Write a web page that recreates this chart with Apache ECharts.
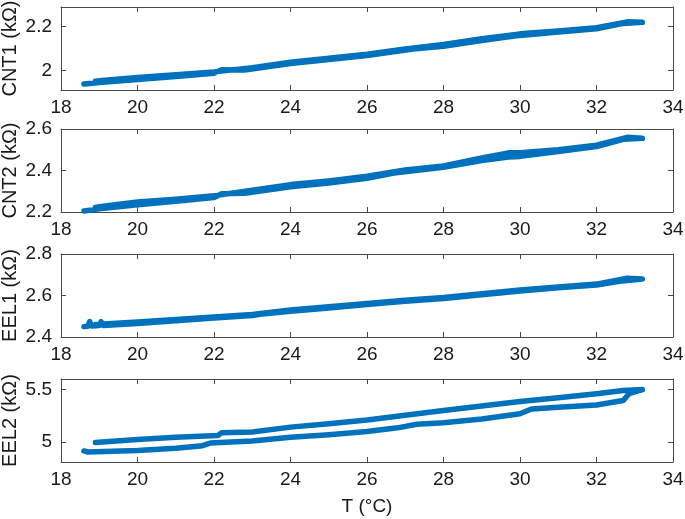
<!DOCTYPE html>
<html>
<head>
<meta charset="utf-8">
<script src="https://cdn.jsdelivr.net/npm/echarts@6/dist/echarts.min.js"></script>
<style>html,body{margin:0;padding:0;background:#fff}#c{width:685px;height:519px}</style>
</head>
<body>
<div id="c"></div>
<script>
// ---- data ----
const xTicks = [18, 20, 22, 24, 26, 28, 30, 32, 34];
const panelNames = ['CNT1 (kΩ)', 'CNT2 (kΩ)', 'EEL1 (kΩ)', 'EEL2 (kΩ)'];

// CNT1
const cnt1HeatT = [18.6, 19.0, 20.0, 21.0, 22.0, 22.2, 22.8, 24.0, 25.0, 26.0, 27.2, 28.0, 29.0, 30.0, 31.0, 32.0, 32.7, 33.2];
const cnt1HeatR = [1.937, 1.944, 1.958, 1.972, 1.987, 2.003, 2.002, 2.031, 2.050, 2.068, 2.098, 2.110, 2.137, 2.160, 2.175, 2.190, 2.215, 2.220];
const cnt1CoolT = [33.2, 32.8, 32.0, 31.0, 30.0, 29.0, 28.0, 27.0, 26.0, 25.0, 24.0, 23.0, 22.0, 21.0, 20.0, 19.0, 18.9];
const cnt1CoolR = [2.222, 2.222, 2.195, 2.180, 2.167, 2.145, 2.118, 2.098, 2.074, 2.055, 2.037, 2.012, 1.993, 1.980, 1.967, 1.952, 1.950];

// CNT2
const cnt2HeatT = [18.6, 19.0, 20.0, 21.0, 22.0, 22.2, 22.8, 24.0, 25.0, 26.0, 26.7, 28.0, 29.0, 29.7, 30.0, 31.0, 32.0, 32.7, 33.2];
const cnt2HeatR = [2.205, 2.215, 2.235, 2.252, 2.270, 2.288, 2.290, 2.322, 2.340, 2.362, 2.388, 2.415, 2.448, 2.465, 2.468, 2.492, 2.515, 2.550, 2.555];
const cnt2CoolT = [33.2, 32.8, 32.0, 31.0, 30.0, 29.7, 29.0, 28.0, 27.0, 26.0, 25.0, 24.0, 23.0, 22.0, 21.0, 20.0, 19.0, 18.9];
const cnt2CoolR = [2.558, 2.560, 2.522, 2.500, 2.485, 2.485, 2.460, 2.422, 2.402, 2.372, 2.350, 2.332, 2.305, 2.278, 2.262, 2.248, 2.225, 2.222];

// EEL1
const eel1HeatT = [18.6, 18.7, 18.75, 18.8, 19.0, 19.05, 19.1, 20.0, 21.0, 22.0, 23.0, 23.2, 24.0, 25.0, 26.0, 27.0, 28.0, 29.0, 30.0, 31.0, 32.0, 32.6, 33.2];
const eel1HeatR = [2.450, 2.452, 2.474, 2.453, 2.455, 2.474, 2.456, 2.465, 2.478, 2.492, 2.503, 2.510, 2.524, 2.540, 2.556, 2.572, 2.585, 2.603, 2.622, 2.637, 2.650, 2.668, 2.680];
const eel1CoolT = [33.2, 32.8, 32.0, 31.0, 30.0, 29.0, 28.0, 27.0, 26.0, 25.0, 24.0, 23.0, 22.0, 21.0, 20.0, 19.0, 18.9];
const eel1CoolR = [2.684, 2.683, 2.655, 2.641, 2.626, 2.608, 2.590, 2.577, 2.561, 2.546, 2.530, 2.508, 2.497, 2.484, 2.472, 2.462, 2.460];

// EEL2
const eel2HeatT = [18.6, 18.7, 20.0, 21.0, 21.7, 21.9, 23.0, 24.0, 25.0, 26.0, 26.8, 27.3, 28.0, 29.0, 30.0, 30.3, 31.0, 32.0, 32.7, 32.85, 33.2];
const eel2HeatR = [4.915, 4.905, 4.920, 4.940, 4.965, 4.990, 5.010, 5.045, 5.070, 5.100, 5.135, 5.170, 5.183, 5.220, 5.270, 5.315, 5.330, 5.352, 5.395, 5.460, 5.500];
const eel2CoolT = [33.2, 32.7, 32.0, 31.0, 30.0, 29.0, 28.0, 27.0, 26.0, 25.0, 24.0, 23.0, 22.2, 22.1, 21.0, 20.0, 18.9];
const eel2CoolR = [5.500, 5.490, 5.460, 5.422, 5.386, 5.343, 5.300, 5.255, 5.210, 5.175, 5.142, 5.095, 5.088, 5.063, 5.045, 5.025, 4.995];

// y-axis ranges and ticks
const yMins = [1.91, 2.2, 2.4, 4.81];
const yMaxs = [2.29, 2.6, 2.8, 5.6];
const yTicks = [[2, 2.2], [2.2, 2.4, 2.6], [2.4, 2.6, 2.8], [5, 5.5]];

// ---- build chart ----
const heatT = [cnt1HeatT, cnt2HeatT, eel1HeatT, eel2HeatT];
const heatR = [cnt1HeatR, cnt2HeatR, eel1HeatR, eel2HeatR];
const coolT = [cnt1CoolT, cnt2CoolT, eel1CoolT, eel2CoolT];
const coolR = [cnt1CoolR, cnt2CoolR, eel1CoolR, eel2CoolR];

const tops = [7, 129, 254, 379];
const H = 83;
const lineCol = '#4a4a4a';
const font = 'Liberation Sans, Arial, sans-serif';
const blue = '#0072BD';

const grids = [], xAxes = [], yAxes = [], series = [];
for (let i = 0; i < 4; i++) {
  grids.push({left: 61, right: 12, top: tops[i], height: H, containLabel: false, outerBoundsMode: 'none'});
  const xBase = {
    gridIndex: i, type: 'value', min: 18, max: 34, interval: 2,
    axisLine: {show: true, onZero: false, lineStyle: {color: lineCol, width: 1}},
    axisTick: {show: true, inside: true, length: 5, lineStyle: {color: lineCol}},
    splitLine: {show: false}
  };
  xAxes.push(Object.assign({}, xBase, {
    position: 'bottom',
    axisLabel: {show: true, margin: 8, color: '#1a1a1a', fontSize: 19, fontFamily: font,
      hideOverlap: false, formatter: v => xTicks.includes(v) ? String(v) : ''},
    name: i === 3 ? 'T (°C)' : '', nameLocation: 'middle', nameGap: 35, nameMoveOverlap: false,
    nameTextStyle: {color: '#1a1a1a', fontSize: 19, fontFamily: font}
  }));
  xAxes.push(Object.assign({}, xBase, {position: 'top', axisLabel: {show: false}}));

  const yBase = {
    gridIndex: i, type: 'value', min: yMins[i], max: yMaxs[i],
    axisLine: {show: true, onZero: false, lineStyle: {color: lineCol, width: 1}},
    axisTick: {show: true, inside: true, length: 5, lineStyle: {color: lineCol},
      customValues: yTicks[i]},
    splitLine: {show: false}
  };
  yAxes.push(Object.assign({}, yBase, {
    position: 'left',
    axisLabel: {show: true, margin: 9, color: '#1a1a1a', fontSize: 19, fontFamily: font,
      customValues: yTicks[i], formatter: v => String(+v.toFixed(2))},
    name: panelNames[i], nameLocation: 'middle', nameGap: 41, nameMoveOverlap: false,
    nameTextStyle: {color: '#1a1a1a', fontSize: 20, fontFamily: font}
  }));
  yAxes.push(Object.assign({}, yBase, {position: 'right', axisLabel: {show: false}}));

  const data = [];
  heatT[i].forEach((t, k) => data.push([t, heatR[i][k]]));
  coolT[i].forEach((t, k) => data.push([t, coolR[i][k]]));
  series.push({
    type: 'line', xAxisIndex: 2 * i, yAxisIndex: 2 * i, data: data,
    showSymbol: false, symbol: 'none', silent: true, animation: false,
    lineStyle: {color: blue, width: 5.5, cap: 'round', join: 'round'}
  });
}

const chart = echarts.init(document.getElementById('c'), null, {renderer: 'canvas'});
chart.setOption({
  backgroundColor: '#fff',
  animation: false,
  grid: grids, xAxis: xAxes, yAxis: yAxes, series: series
});
</script>
</body>
</html>
